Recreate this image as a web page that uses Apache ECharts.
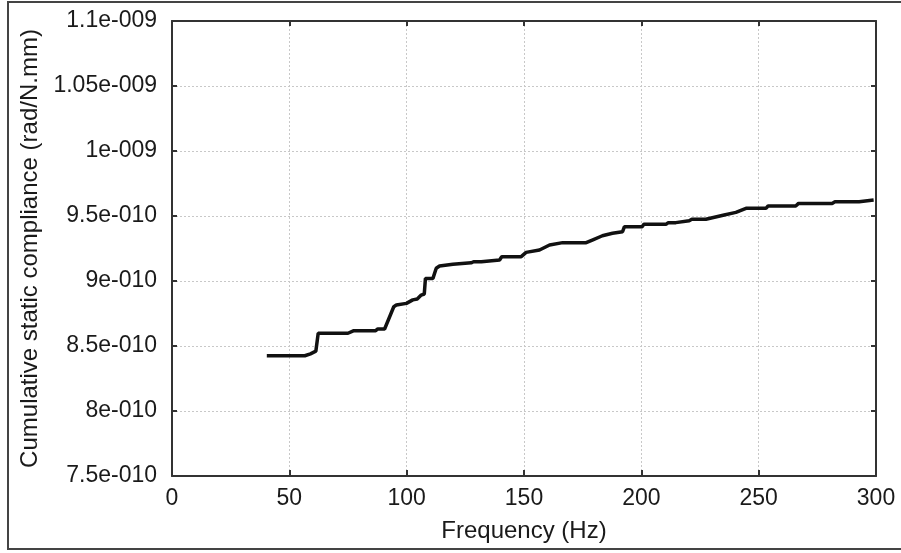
<!DOCTYPE html>
<html>
<head>
<meta charset="utf-8">
<script src="https://cdn.jsdelivr.net/npm/echarts@6/dist/echarts.min.js"></script>
<style>
  html, body { margin: 0; padding: 0; background: #fff; }
  #chart { width: 901px; height: 553px; }
</style>
</head>
<body>
<div id="chart"></div>
<script>
// frequency (Hz) and cumulative static compliance (rad/N.mm)
const freq = [
  40.4, 56.6, 59, 61.3, 62.3, 75, 77.5, 86.8, 87.7, 90.6,
  94.5, 95.6, 99.9, 102.6, 104.5, 106.2, 107.5, 108, 111.2, 112.6,
  114, 119.7, 120.4, 127.5, 128.5, 131.8, 132.5, 139.6, 140.5, 148.8,
  150.9, 156.6, 160.9, 166.5, 176.5, 179.1, 183.4, 187.7, 192, 192.8,
  200.4, 201, 210.5, 211.5, 214.7, 215.5, 220.4, 221.5, 227.5, 235.3,
  240.3, 244.6, 253.1, 254, 265.8, 267, 281.3, 282.5, 292.8, 293.5, 299
]
const compliance = [
  8.425e-10, 8.425e-10, 8.44e-10, 8.46e-10, 8.598e-10, 8.598e-10, 8.618e-10, 8.618e-10, 8.631e-10, 8.631e-10,
  8.802e-10, 8.815e-10, 8.828e-10, 8.855e-10, 8.862e-10, 8.892e-10, 8.9e-10, 9.02e-10, 9.02e-10, 9.098e-10,
  9.115e-10, 9.128e-10, 9.14e-10, 9.14e-10, 9.148e-10, 9.148e-10, 9.162e-10, 9.162e-10, 9.187e-10, 9.187e-10,
  9.22e-10, 9.238e-10, 9.277e-10, 9.295e-10, 9.295e-10, 9.315e-10, 9.348e-10, 9.367e-10, 9.379e-10, 9.418e-10,
  9.418e-10, 9.436e-10, 9.436e-10, 9.449e-10, 9.449e-10, 9.464e-10, 9.464e-10, 9.475e-10, 9.475e-10, 9.508e-10,
  9.528e-10, 9.559e-10, 9.559e-10, 9.577e-10, 9.577e-10, 9.597e-10, 9.597e-10, 9.61e-10, 9.61e-10, 9.623e-10, 9.623e-10
]

const xMin = 0, xMax = 300, xStep = 50
const yMin = 7.5e-10, yMax = 1.1e-9, yStep = 0.5e-10

// matlab style: 1.1e-009
const sci = (v) => {
  const s = parseFloat(Number(v).toPrecision(6)).toExponential()
  const [mant, exp] = s.split('e')
  const n = Math.abs(parseInt(exp, 10))
  return mant + 'e' + (exp[0] === '-' ? '-' : '+') + String(n).padStart(3, '0')
}

const font = 'Liberation Sans, Arial, sans-serif'
const txt = '#1a1a1a'

const chart = echarts.init(document.getElementById('chart'))

const boxAxis = {
  axisLine: { show: true, onZero: false, lineStyle: { color: '#333', width: 2 } },
  axisTick: { show: true, inside: true, length: 5, lineStyle: { color: '#333', width: 2 } },
  axisLabel: { show: false },
  splitLine: { show: false }
}

chart.setOption({
  animation: false,
  backgroundColor: '#fff',
  graphic: [{
    type: 'rect',
    shape: { x: 8, y: 2, width: 910, height: 547 },
    style: { fill: 'none', stroke: '#444', lineWidth: 2 },
    silent: true
  }],
  grid: { left: 172, right: 25, top: 21, bottom: 77 },
  xAxis: [
    {
      type: 'value', min: xMin, max: xMax, interval: xStep,
      name: 'Frequency (Hz)', nameLocation: 'middle', nameGap: 43,
      nameTextStyle: { fontFamily: font, fontSize: 24, color: txt },
      axisLine: { show: true, onZero: false, lineStyle: { color: '#333', width: 2 } },
      axisTick: { show: true, inside: true, length: 6, lineStyle: { color: '#333', width: 2 } },
      axisLabel: { fontFamily: font, fontSize: 23, color: txt, margin: 11 },
      splitLine: { show: true, lineStyle: { color: '#c8c8c8', type: [2, 2], width: 1 } }
    },
    Object.assign({ type: 'value', position: 'top', min: xMin, max: xMax, interval: xStep }, boxAxis)
  ],
  yAxis: [
    {
      type: 'value', min: yMin, max: yMax, interval: yStep,
      name: 'Cumulative static compliance (rad/N.mm)', nameLocation: 'middle', nameGap: 125,
      nameTextStyle: { fontFamily: font, fontSize: 24, color: txt },
      axisLine: { show: true, onZero: false, lineStyle: { color: '#333', width: 2 } },
      axisTick: { show: true, inside: true, length: 5, lineStyle: { color: '#333', width: 2 } },
      axisLabel: { fontFamily: font, fontSize: 23, color: txt, margin: 15, formatter: sci },
      splitLine: { show: true, lineStyle: { color: '#c8c8c8', type: [2, 2], width: 1 } }
    },
    Object.assign({ type: 'value', position: 'right', min: yMin, max: yMax, interval: yStep }, boxAxis)
  ],
  series: [{
    type: 'line',
    xAxisIndex: 0,
    yAxisIndex: 0,
    data: freq.map((f, i) => [f, compliance[i]]),
    showSymbol: false,
    lineStyle: { color: '#111', width: 3.5 }
  }]
})
</script>
</body>
</html>
